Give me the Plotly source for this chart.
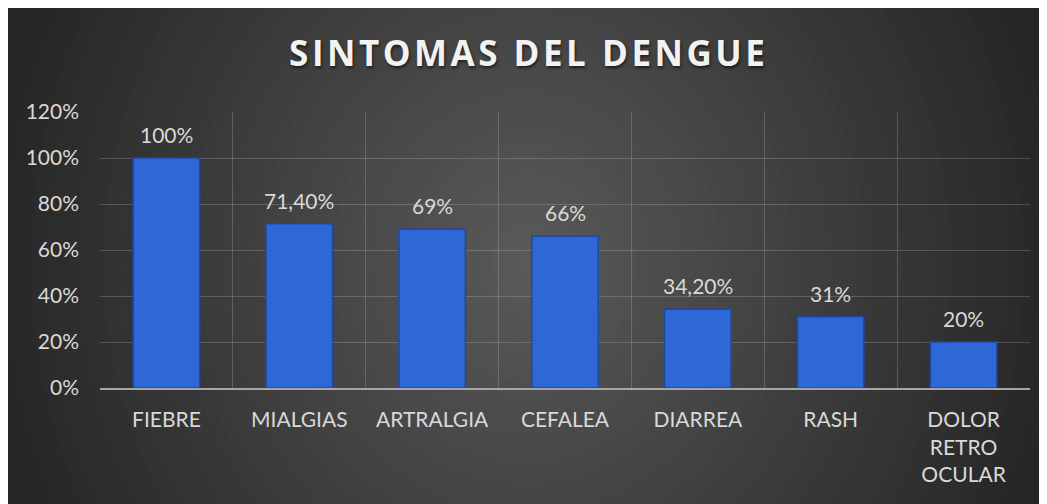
import plotly.graph_objects as go

categorias = ["FIEBRE", "MIALGIAS", "ARTRALGIA", "CEFALEA", "DIARREA", "RASH", "DOLOR<br>RETRO<br>OCULAR"]
valores = [1.00, 0.714, 0.69, 0.66, 0.342, 0.31, 0.20]
etiquetas = ["100%", "71,40%", "69%", "66%", "34,20%", "31%", "20%"]
y_ticks = [0, 0.2, 0.4, 0.6, 0.8, 1.0, 1.2]
y_ticktext = ["0%", "20%", "40%", "60%", "80%", "100%", "120%"]

W, H = 1047, 504
ML, MR, MT, MB = 92, 25, 104, 124
PW = W - ML - MR
PH = H - MT - MB


def px_x(p):
    return (p - ML) / PW


def px_y(p):
    return (H - MB - p) / PH


fig = go.Figure()
fig.add_trace(go.Bar(
    x=categorias, y=valores,
    marker=dict(color="#2e67d6", line=dict(color="#1d4aa6", width=1.5)),
    width=0.5,
    hoverinfo="skip",
))

shapes = []
shapes.append(dict(type="rect", xref="paper", yref="paper", layer="below",
                   x0=px_x(-5), x1=px_x(W + 5), y0=px_y(H + 5), y1=px_y(-5),
                   fillcolor="#262626", line=dict(width=0)))
cx, cy, RX, RY = 519, 254, 545, 600
N = 45
c0, c1 = 0x5a, 0x26
for i in range(N, 0, -1):
    r = i / N
    v = int(round(c0 - (c0 - c1) * r))
    col = "#%02x%02x%02x" % (v, v, v)
    shapes.append(dict(type="circle", xref="paper", yref="paper", layer="below",
                       x0=px_x(cx - RX * r), x1=px_x(cx + RX * r),
                       y0=px_y(cy + RY * r), y1=px_y(cy - RY * r),
                       fillcolor=col, line=dict(width=0)))

annotations = []
for c, v, t in zip(categorias, valores, etiquetas):
    annotations.append(dict(x=c, y=v, xref="x", yref="y", text=t, showarrow=False,
                            yanchor="bottom", yshift=9,
                            font=dict(family="Lato", size=21, color="#d9d9d9")))

titulo = "\u200a".join("SINTOMAS DEL DENGUE")

fig.update_layout(
    width=W, height=H,
    margin=dict(l=ML, r=MR, t=MT, b=MB),
    paper_bgcolor="#262626",
    plot_bgcolor="rgba(0,0,0,0)",
    shapes=shapes,
    annotations=annotations,
    showlegend=False,
    bargap=0.5,
    title=dict(text=titulo,
               xref="container", yref="container", x=519 / W, y=1 - 46 / H,
               xanchor="center", yanchor="middle",
               font=dict(family="Open Sans", size=35, color="#f2f2f2", weight="bold",
                         shadow="1px 2px 3px rgba(0,0,0,0.6)")),
    xaxis=dict(
        tickson="boundaries", showgrid=True, gridcolor="rgba(217,217,217,0.22)", gridwidth=1,
        showline=True, linecolor="#a6a6a6", linewidth=2,
        ticks="", ticklabelstandoff=12,
        tickfont=dict(family="Lato", size=21, color="#d9d9d9"),
        fixedrange=True,
    ),
    yaxis=dict(
        range=[0, 1.2], tickvals=y_ticks, ticktext=y_ticktext,
        showgrid=True, gridcolor="rgba(217,217,217,0.22)", gridwidth=1,
        zeroline=False, showline=False, ticks="", ticklabelstandoff=20,
        tickfont=dict(family="Lato", size=21, color="#d9d9d9"),
        fixedrange=True,
    ),
)

fig.write_html("out.html", config={"displayModeBar": False})
